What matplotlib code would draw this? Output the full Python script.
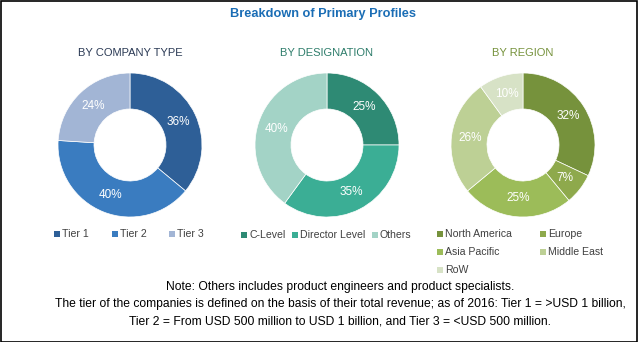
import matplotlib
matplotlib.use("Agg")
import matplotlib.pyplot as plt
from matplotlib.patches import Rectangle

plt.rcParams['font.family'] = ['Liberation Sans', 'DejaVu Sans']

title = "Breakdown of Primary Profiles"

company_labels = ["Tier 1", "Tier 2", "Tier 3"]
company_values = [36, 40, 24]
company_colors = ["#2E5F97", "#3A7CC0", "#A2B5D5"]

designation_labels = ["C-Level", "Director Level", "Others"]
designation_values = [25, 35, 40]
designation_colors = ["#2E8A74", "#3BAE95", "#A3D3C6"]

region_labels = ["North America", "Europe", "Asia Pacific", "Middle East", "RoW"]
region_values = [32, 7, 25, 26, 10]
region_colors = ["#76923C", "#8EA94C", "#9CBC59", "#BDD095", "#D7E2C6"]

notes = [
    "Note: Others includes product engineers and product specialists.",
    "The tier of the companies is defined on the basis of their total revenue; as of 2016: Tier 1 = >USD 1 billion,",
    "Tier 2 = From USD 500 million to USD 1 billion, and Tier 3 = <USD 500 million.",
]

W, H = 638, 342
fig = plt.figure(figsize=(W / 100, H / 100), dpi=100)

# border
fig.add_artist(Rectangle((0.5 / W, 0.5 / H), 1 - 1.5 / W, 1 - 1.5 / H, transform=fig.transFigure,
                         fill=False, edgecolor="black", linewidth=1.2))

fig.text(323 / W, 1 - 14 / H, title, ha="center", va="center", fontsize=9.2,
         fontweight="bold", color="#1A6DB5")

panels = [
    ("BY COMPANY TYPE", "#2B3A55", company_labels, company_values, company_colors, 130),
    ("BY DESIGNATION", "#2E7D6B", designation_labels, designation_values, designation_colors, 327),
    ("BY REGION", "#76923C", region_labels, region_values, region_colors, 523),
]

R = 72
cy = 145
for sub, scol, labels, values, colors, cx in panels:
    fig.text(cx / W, 1 - 53 / H, sub, ha="center", va="center", fontsize=8, color=scol)
    ax = fig.add_axes([(cx - R) / W, 1 - (cy + R) / H, 2 * R / W, 2 * R / H])
    wedges, texts = ax.pie(values, colors=colors, startangle=90, counterclock=False,
                           radius=1, labels=[f"{v}%" for v in values], labeldistance=0.74,
                           wedgeprops=dict(width=0.5, edgecolor="white", linewidth=0.5),
                           textprops=dict(color="white", fontsize=8.5))
    for t in texts:
        t.set_ha("center")
        t.set_va("center")
    ax.set_xlim(-1, 1)
    ax.set_ylim(-1, 1)
    ax.set_aspect("equal")
    ax.axis("off")


def legend_item(lab, col, x, y):
    fig.add_artist(Rectangle(((x - 3) / W, 1 - (y + 3) / H), 6 / W, 6 / H,
                             transform=fig.transFigure, facecolor=col, edgecolor="none"))
    fig.text((x + 5) / W, 1 - y / H, lab, ha="left", va="center", fontsize=7.6, color="#404040")


for lab, col, x in zip(company_labels, company_colors, [57, 115, 172]):
    legend_item(lab, col, x, 234)

for lab, col, x in zip(designation_labels, designation_colors, [244, 295, 375]):
    legend_item(lab, col, x, 235)

for i, (lab, col) in enumerate(zip(region_labels, region_colors)):
    r, c = divmod(i, 2)
    legend_item(lab, col, 440 + c * 103, 234 + r * 18)

for i, line in enumerate(notes):
    fig.text(340 / W, 1 - (287 + 17 * i) / H, line, ha="center", va="center", fontsize=8.7, color="black")

fig.savefig("out.png", dpi=100)
